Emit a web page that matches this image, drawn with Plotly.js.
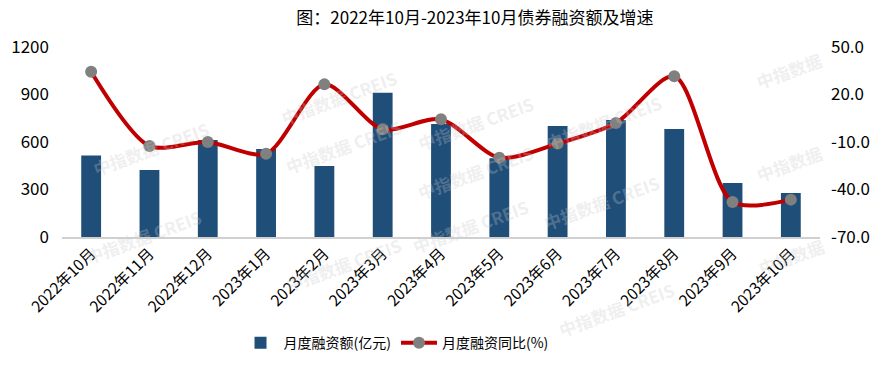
<!DOCTYPE html>
<html>
<head>
<meta charset="utf-8">
<script src="https://cdn.plot.ly/plotly-3.0.1.min.js"></script>
<style>html,body{margin:0;padding:0;background:#fff;}#chart{width:896px;height:367px;}</style>
</head>
<body>
<div id="chart"></div>
<script>
const categories = ["2022年10月","2022年11月","2022年12月","2023年1月","2023年2月","2023年3月","2023年4月","2023年5月","2023年6月","2023年7月","2023年8月","2023年9月","2023年10月"];
const amount = [515, 423, 613, 556, 448, 911, 714, 497, 701, 739, 682, 341, 278];
const growth = [34.4, -12.5, -10.0, -17.4, 26.4, -2.0, 4.3, -19.9, -11.0, 2.0, 31.5, -47.9, -46.4];
const leftTicks = [0, 300, 600, 900, 1200];
const rightTicks = [-70, -40, -10, 20, 50];
const watermarks = [
  [275, 62, "中指数据 CREIS"], [87, 148, "中指数据 CREIS"], [280, 182, "中指数据 CREIS"],
  [475, 88, "中指数据 CREIS"], [667, 122, "中指数据 CREIS"], [828, 45, "中指数据"],
  [828, 163, "中指数据"], [475, 208, "中指数据 CREIS"], [665, 238, "中指数据 CREIS"],
  [80, 272, "中指数据 CREIS"], [280, 300, "中指数据 CREIS"], [470, 262, "中指数据 CREIS"],
  [680, 345, "中指数据 CREIS"], [830, 282, "中指数据"]
];

const font = "'Noto Sans CJK SC', 'Noto Sans', sans-serif";

const traces = [
  {
    type: "bar", name: "月度融资额(亿元)", x: categories, y: amount,
    marker: {color: "#1F4E79"}, width: 0.34, yaxis: "y"
  },
  {
    type: "scatter", mode: "lines+markers", name: "月度融资同比(%)", x: categories, y: growth,
    line: {color: "#C00000", width: 4, shape: "spline", smoothing: 0.8},
    marker: {color: "#808080", size: 12}, yaxis: "y2"
  }
];

const annotations = watermarks.map(w => ({
  xref: "paper", yref: "paper",
  x: (w[0] - 62) / 758, y: (237 - w[1]) / 190,
  text: w[2], showarrow: false, textangle: -20,
  font: {family: font, size: 17, color: "rgba(200,200,200,0.3)", weight: "bold"}
}));

const layout = {
  width: 896, height: 367,
  margin: {l: 62, r: 76, t: 47, b: 130},
  paper_bgcolor: "#fff", plot_bgcolor: "rgba(0,0,0,0)",
  font: {family: font, color: "#000"},
  title: {text: "图：2022年10月-2023年10月债券融资额及增速", x: 0.53, xanchor: "center", y: 0.95, yanchor: "middle", font: {size: 17, family: font}},
  showlegend: true,
  legend: {orientation: "h", x: 0.44, xanchor: "center", yref: "container", y: 0.065, yanchor: "middle", font: {size: 14}, itemwidth: 36, tracegroupgap: 0},
  xaxis: {
    type: "category", range: [-0.5, 12.5], tickangle: -45, tickfont: {size: 15.5}, showgrid: false, automargin: false,
    showline: true, linecolor: "#d0d0d0", linewidth: 1.5, ticks: "", zeroline: false
  },
  yaxis: {
    range: [0, 1200], tickvals: leftTicks, ticktext: leftTicks.map(String), automargin: false,
    showgrid: false, zeroline: false, showline: false, tickfont: {size: 17}, ticks: "", ticklabelstandoff: 12
  },
  yaxis2: {
    range: [-70, 50], tickvals: rightTicks, ticktext: rightTicks.map(v => v.toFixed(1)), automargin: false,
    overlaying: "y", side: "right", showgrid: false, zeroline: false, showline: false,
    tickfont: {size: 17}, ticks: "", ticklabelstandoff: 10
  },
  bargap: 0.66,
  annotations: annotations
};

Plotly.newPlot("chart", traces, layout, {displayModeBar: false, staticPlot: true});
</script>
</body>
</html>
